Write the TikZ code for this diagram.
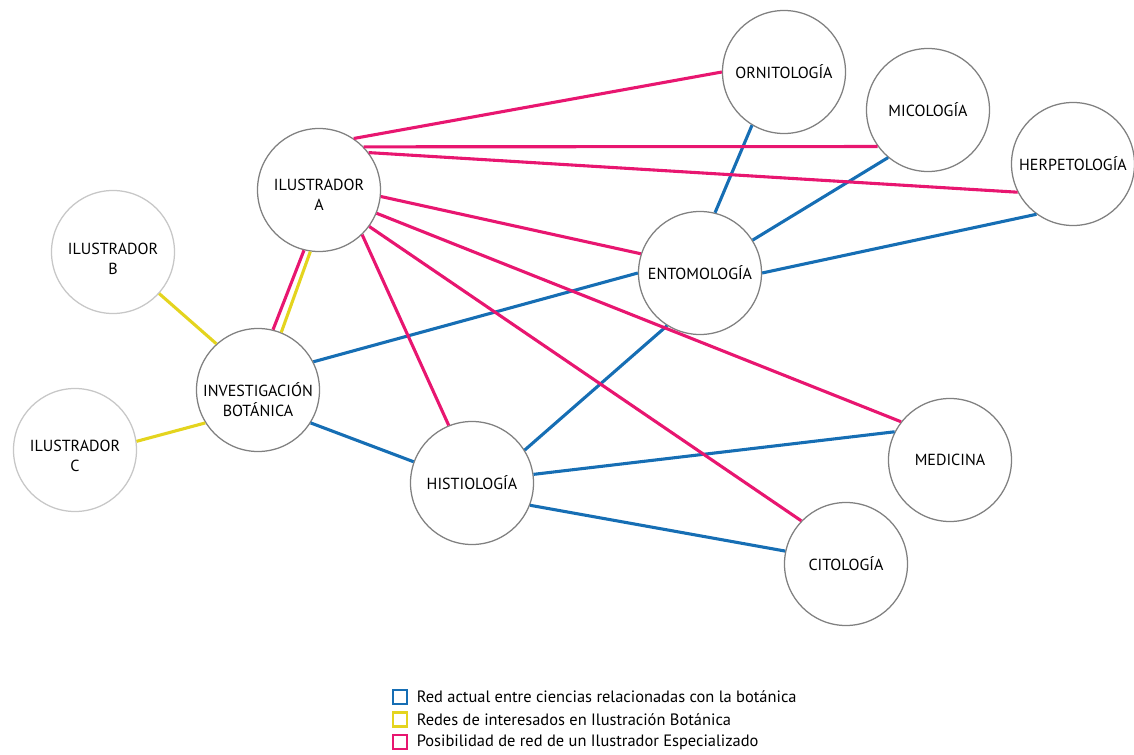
\documentclass[tikz,border=0pt]{standalone}
\usepackage{fontspec}
\setmainfont{PT Sans}
\usepackage{tikz}
\usetikzlibrary{positioning}

\definecolor{netblue}{RGB}{22,110,180}
\definecolor{netyellow}{RGB}{228,212,30}
\definecolor{netpink}{RGB}{232,22,112}

\begin{document}
\begin{tikzpicture}[x=0.025cm, y=-0.025cm,
      circ/.style={circle, draw=black!50, line width=0.9pt, fill=white,
                   minimum size=3.075cm, inner sep=0pt, align=center,
                   font=\fontsize{11.4}{14}\selectfont},
      faint/.style={circ, draw=black!22},
      lbl/.style={align=center, font=\fontsize{11.4}{14}\selectfont},
      blueln/.style={draw=netblue, line width=2.2pt},
      yellowln/.style={draw=netyellow, line width=2.2pt},
      pinkln/.style={draw=netpink, line width=2.2pt},
      key/.style={draw=#1, line width=2.1pt, minimum size=0.35cm, inner sep=0pt},
      keytext/.style={font=\fontsize{11.7}{13}\selectfont, anchor=west, inner sep=0pt},
      node distance=0.2cm]
    \useasboundingbox (0,0) rectangle (1134,755);

    % sciences
    \node[circ] (orn) at (784,72) {ORNITOLOGÍA};
    \node[circ] (mic) at (928,110) {MICOLOGÍA};
    \node[circ] (herp) at (1073,164) {HERPETOLOGÍA};
    \node[circ] (ent) at (700,273) {ENTOMOLOGÍA};
    \node[circ] (hist) at (472,483) {HISTIOLOGÍA};
    \node[circ] (med) at (950,460) {MEDICINA};
    \node[circ] (cit) at (846,564) {CITOLOGÍA};
    \node[circ, label={[lbl, yshift=-7pt]center:INVESTIGACIÓN\\BOTÁNICA}] (inv) at (258,390) {};

    % illustrators
    \node[circ, label={[lbl, yshift=-3.5pt]center:ILUSTRADOR\\A}] (ilA) at (319,190) {};
    \node[faint, label={[lbl, yshift=-5pt]center:ILUSTRADOR\\B}] (ilB) at (113,252) {};
    \node[faint, label={[lbl, yshift=-4pt]center:ILUSTRADOR\\C}] (ilC) at (75,450) {};

    % current network
    \draw[blueln] (inv.27) -- (ent.180);
    \draw[blueln] (inv.-32) -- (hist.160);
    \draw[blueln] (ent.76) -- (orn.239);
    \draw[blueln] (ent.32) -- (mic.230);
    \draw[blueln] (ent.0) -- (herp.234);
    \draw[blueln] (hist.32) -- (ent.238);
    \draw[blueln] (hist.8) -- (med.153);
    \draw[blueln] (hist.-21) -- (cit.168);

    % interested in botanical illustration
    \draw[yellowln] (ilB.-42) -- (inv.132);
    \draw[yellowln] (ilC.8) -- (inv.212);
    \draw[yellowln] (ilA.-98) -- (inv.68);

    % specialised illustrator
    \draw[pinkln] (ilA.-104) -- (inv.76);
    \draw[pinkln] (ilA.56) -- (orn.180);
    \draw[pinkln] (ilA.44) -- (mic.216);
    \draw[pinkln] (ilA.37) -- (herp.207);
    \draw[pinkln] (ilA.-6) -- (ent.162);
    \draw[pinkln] (ilA.-22) -- (med.142);
    \draw[pinkln] (ilA.-36) -- (cit.136);
    \draw[pinkln] (ilA.-46) -- (hist.112);

    % legend
    \node[key=netblue] (kBlue) at (400,697) {};
    \node[key=netyellow] (kYellow) at (400,719.5) {};
    \node[key=netpink] (kPink) at (400,742) {};
    \node[keytext, right=of kBlue] (tBlue) {Red actual entre ciencias relacionadas con la botánica};
    \node[keytext, right=of kYellow] (tYellow) {Redes de interesados en Ilustración Botánica};
    \node[keytext, right=of kPink] (tPink) {Posibilidad de red de un Ilustrador Especializado};
\end{tikzpicture}
\end{document}
